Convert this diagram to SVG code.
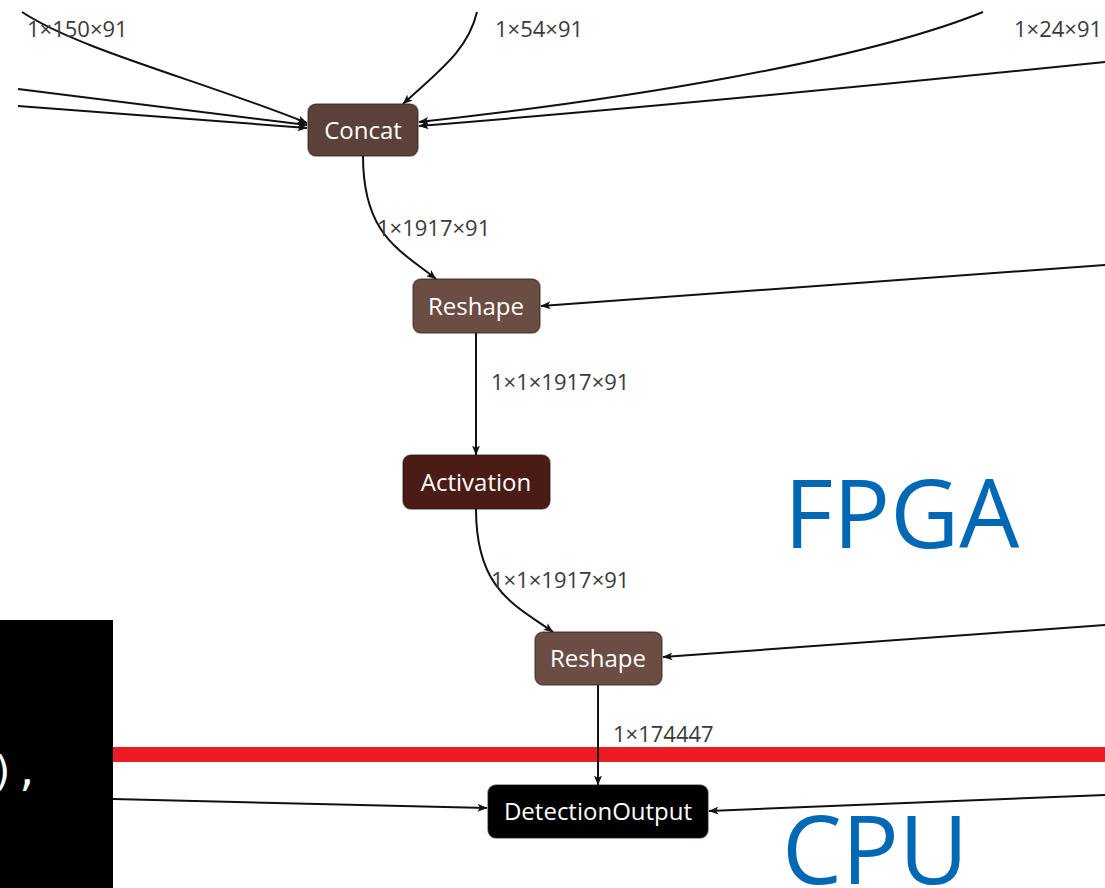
<svg xmlns="http://www.w3.org/2000/svg" width="1105" height="888" viewBox="0 0 1105 888">
  <style>
    .edge { fill: none; stroke: #111; stroke-width: 2; marker-end: url(#arrow); }
    .node rect { stroke: #2a1a16; stroke-opacity: 0.55; stroke-width: 1.5; }
    .node text { font-family: "Open Sans", "Noto Sans", sans-serif; font-size: 24px; fill: #ffffff; text-anchor: middle; }
    .lbl { font-family: "Open Sans", "Noto Sans", sans-serif; font-size: 22px; fill: #3a3a3a; }
    .zone { font-family: "Open Sans", "Noto Sans", sans-serif; font-size: 95px; fill: #0068b5; }
  </style>
  <defs>
    <marker id="arrow" viewBox="0 0 10 8" refX="9.5" refY="4" markerWidth="10" markerHeight="8" markerUnits="userSpaceOnUse" orient="auto">
      <path d="M0,0 L10,4 L0,8 L2.5,4 Z" fill="#111"/>
    </marker>
  </defs>

  <rect x="0" y="0" width="1105" height="888" fill="#ffffff"/>

  <!-- console snippet on the left -->
  <rect x="0" y="620" width="113" height="268" fill="#000000"/>
  <text x="-9" y="785" font-family="DejaVu Sans Mono, Liberation Mono, monospace" font-size="40" font-weight="300" fill="#ffffff">),</text>

  <!-- FPGA / CPU partition -->
  <rect x="113" y="747" width="992" height="15" fill="#ed1c24"/>
  <text class="zone" x="784" y="548">FPGA</text>
  <text class="zone" x="782" y="884">CPU</text>

  <!-- connectors -->
  <g id="edges">
    <path class="edge" d="M22,12 C80,50 200,80 307,123"/>
    <path class="edge" d="M18,89 L307,125"/>
    <path class="edge" d="M18,106 L307,128"/>
    <path class="edge" d="M477,12 C468,50 440,70 403,104"/>
    <path class="edge" d="M983,12 C860,62 620,100 419,122"/>
    <path class="edge" d="M1105,62 C880,85 640,108 419,126"/>
    <path class="edge" d="M363,156 C363,235 400,250 436,279"/>
    <path class="edge" d="M1105,265 C900,280 700,293 541,306"/>
    <path class="edge" d="M476,333 L476,455"/>
    <path class="edge" d="M476,509 C476,590 515,605 553,632"/>
    <path class="edge" d="M1105,625 C950,635 800,648 663,657"/>
    <path class="edge" d="M598,685 L598,785"/>
    <path class="edge" d="M113,799 L487,808"/>
    <path class="edge" d="M1105,795 L709,811"/>

    <text class="lbl" x="27" y="37">1×150×91</text>
    <text class="lbl" x="495" y="37">1×54×91</text>
    <text class="lbl" x="1014" y="37">1×24×91</text>
    <text class="lbl" x="377" y="236">1×1917×91</text>
    <text class="lbl" x="491" y="390">1×1×1917×91</text>
    <text class="lbl" x="491" y="588">1×1×1917×91</text>
    <text class="lbl" x="613" y="742">1×174447</text>
  </g>

  <!-- nodes -->
  <g id="concat" class="node">
    <rect x="308" y="104" width="110" height="52" rx="8" fill="#5b4139"/>
    <text x="363" y="139">Concat</text>
  </g>
  <g id="reshape1" class="node">
    <rect x="413" y="279" width="127" height="54" rx="8" fill="#6b4d44"/>
    <text x="476" y="315">Reshape</text>
  </g>
  <g id="activation" class="node">
    <rect x="403" y="455" width="147" height="54" rx="8" fill="#4b1b16"/>
    <text x="476" y="491">Activation</text>
  </g>
  <g id="reshape2" class="node">
    <rect x="535" y="632" width="127" height="53" rx="8" fill="#6b4d44"/>
    <text x="598" y="667">Reshape</text>
  </g>
  <g id="detectionoutput" class="node">
    <rect x="488" y="785" width="220" height="53" rx="8" fill="#000000"/>
    <text x="598" y="820">DetectionOutput</text>
  </g>
</svg>
